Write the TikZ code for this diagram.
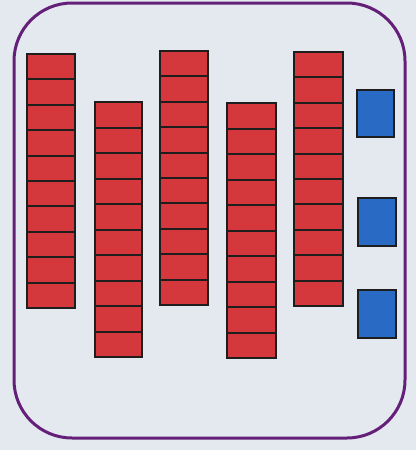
\documentclass[tikz,border=0pt]{standalone}
\definecolor{bg}{RGB}{228,233,240}
\definecolor{rodred}{RGB}{212,56,60}
\definecolor{unitblue}{RGB}{40,106,196}
\definecolor{frame}{RGB}{100,32,120}
\definecolor{edge}{RGB}{30,30,30}
\tikzset{
  rodcell/.style={fill=rodred,draw=edge,line width=2pt},
  unitsq/.style={fill=unitblue,draw=edge,line width=2pt},
  frameline/.style={draw=frame,line width=3pt,rounded corners=58pt}
}
\begin{document}
\begin{tikzpicture}[x=1pt,y=-1pt]
\fill[bg] (0,0) rectangle (416,450);
\useasboundingbox (0,0) rectangle (416,450);
\draw[frameline] (14,3) rectangle (405,438);
% rods: left, right, top, bottom
\foreach \l/\r/\t/\b in {27/75/54/308, 95/142/102/357, 160/208/51/305, 227/276/103/358, 294/343/52/306}{
  \pgfmathsetmacro{\h}{(\b-\t)/10}
  \foreach \i in {0,...,9}{
    \draw[rodcell] (\l,{\t+\i*\h}) rectangle (\r,{\t+(\i+1)*\h});
  }
}
\draw[unitsq] (357,90) rectangle (394,137);
\draw[unitsq] (358,198) rectangle (396,246);
\draw[unitsq] (358,290) rectangle (396,338);
\end{tikzpicture}
\end{document}
